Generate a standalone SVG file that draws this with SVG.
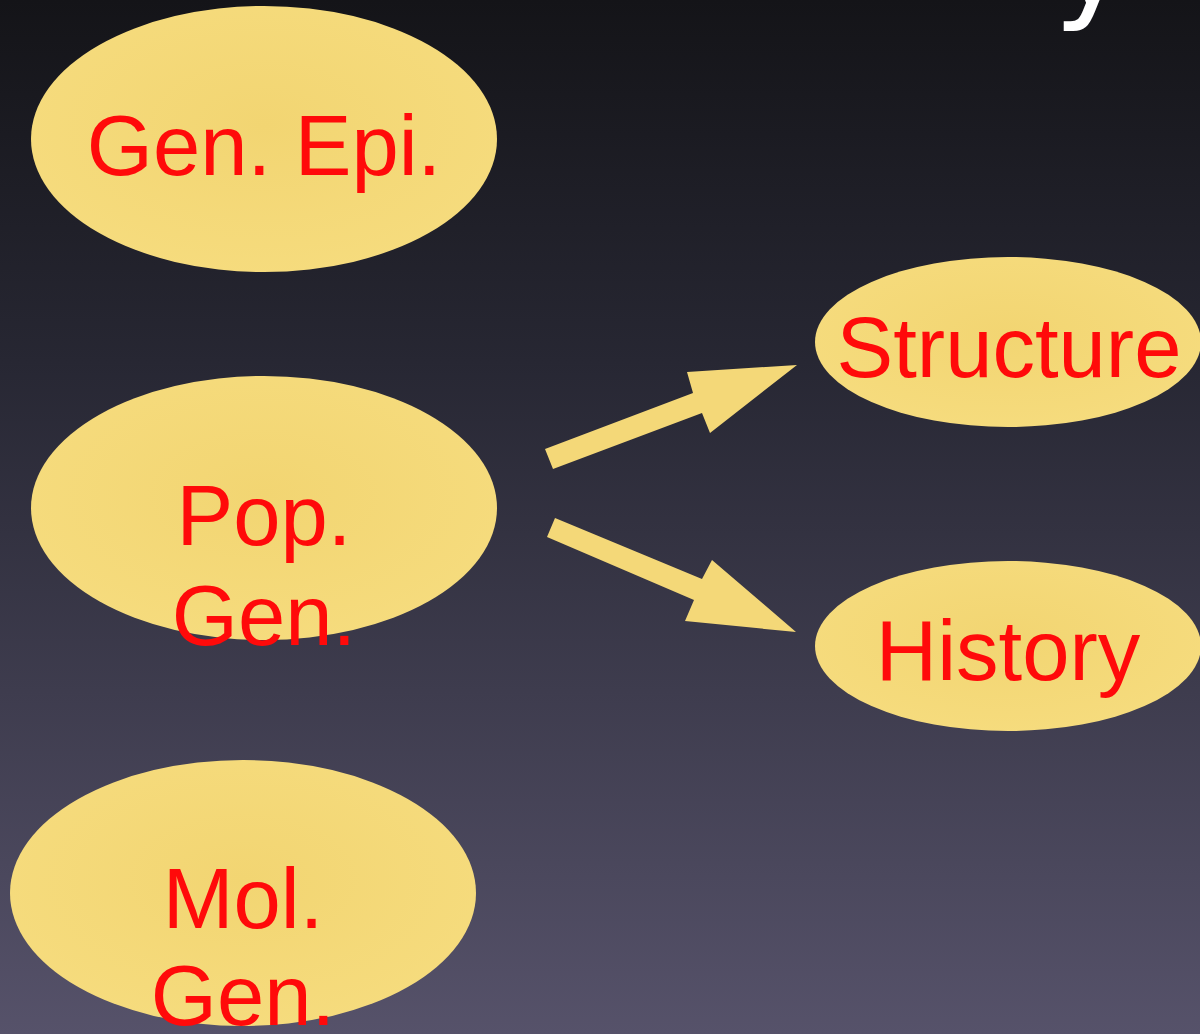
<svg xmlns="http://www.w3.org/2000/svg" width="1200" height="1034" viewBox="0 0 1200 1034">
<defs>
<linearGradient id="bg" x1="0" y1="0" x2="0" y2="1">
<stop offset="0" stop-color="#141418"/>
<stop offset="0.35" stop-color="#272733"/>
<stop offset="1" stop-color="#56526a"/>
</linearGradient>
<radialGradient id="fill" cx="0.5" cy="0.45" r="0.6">
<stop offset="0" stop-color="#f2d572"/>
<stop offset="1" stop-color="#f6dc7e"/>
</radialGradient>
</defs>
<style>
.node ellipse{fill:url(#fill);}
.lbl{font-family:"Liberation Sans",Arial,sans-serif;font-size:85px;fill:#ff0a0a;text-anchor:middle;}
.arrow{fill:#f4d878;}
</style>
<rect width="1200" height="1034" fill="url(#bg)"/>
<text x="1092" y="4" font-family="DejaVu Sans, sans-serif" font-size="130" fill="#ffffff" text-anchor="middle">y</text>
<g id="gen-epi" class="node">
<ellipse cx="264" cy="139" rx="233" ry="133"/>
<text class="lbl" x="264" y="175">Gen. Epi.</text>
</g>
<g id="pop-gen" class="node">
<ellipse cx="264" cy="508" rx="233" ry="132"/>
<text class="lbl" x="264" y="545">Pop.</text>
<text class="lbl" x="264" y="645">Gen.</text>
</g>
<g id="mol-gen" class="node">
<ellipse cx="243" cy="893" rx="233" ry="133"/>
<text class="lbl" x="243" y="928">Mol.</text>
<text class="lbl" x="243" y="1025">Gen.</text>
</g>
<g id="structure" class="node">
<ellipse cx="1008" cy="342" rx="193" ry="85"/>
<text class="lbl" x="1009" y="377">Structure</text>
</g>
<g id="history" class="node">
<ellipse cx="1008" cy="646" rx="193" ry="85"/>
<text class="lbl" x="1008" y="680">History</text>
</g>
<g id="connectors">
<polygon class="arrow" points="545,449 693,393 687,372 797,365 710,433 702,413 553,469"/>
<polygon class="arrow" points="555,518 702,579 712,560 796,632 685,621 694,600 547,537"/>
</g>
</svg>
